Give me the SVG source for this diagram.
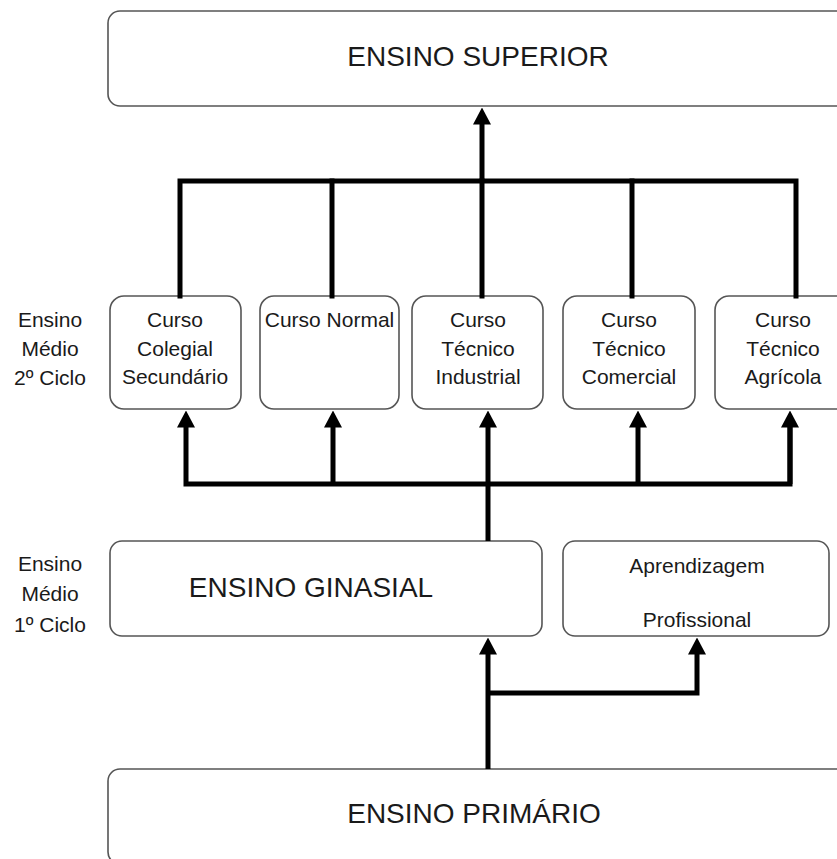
<svg xmlns="http://www.w3.org/2000/svg" width="837" height="859" viewBox="0 0 837 859">
<style>
.box{fill:#fff;stroke:#555;stroke-width:1.6}
.t{font-family:"Liberation Sans",Arial,sans-serif;fill:#1a1a1a;text-anchor:middle}
.big{font-size:28px}
.sm{font-size:21px}
.con{fill:none;stroke:#000;stroke-width:5;stroke-linejoin:miter;stroke-linecap:square}
.arr{stroke-linecap:butt}
</style>
<defs>
<marker id="ah" viewBox="0 0 17 18" markerWidth="17" markerHeight="18" refX="0.5" refY="9" orient="auto" markerUnits="userSpaceOnUse">
<path d="M0,0 L17,9 L0,18 z" fill="#000"/>
</marker>
</defs>
<rect width="837" height="859" fill="#fff"/>
<g id="superior"><rect class="box" x="108" y="11" width="745" height="95" rx="12"/><text class="t big" x="478" y="66">ENSINO SUPERIOR</text></g>
<g id="colegial"><rect class="box" x="110" y="296" width="131" height="113" rx="14"/><text class="t sm" x="175" y="327">Curso</text><text class="t sm" x="175" y="356">Colegial</text><text class="t sm" x="175" y="384">Secundário</text></g>
<g id="normal"><rect class="box" x="260" y="296" width="139" height="113" rx="14"/><text class="t sm" x="329.5" y="327">Curso Normal</text></g>
<g id="industrial"><rect class="box" x="412" y="296" width="131" height="113" rx="14"/><text class="t sm" x="478" y="327">Curso</text><text class="t sm" x="478" y="356">Técnico</text><text class="t sm" x="478" y="384">Industrial</text></g>
<g id="comercial"><rect class="box" x="563" y="296" width="132" height="113" rx="14"/><text class="t sm" x="629" y="327">Curso</text><text class="t sm" x="629" y="356">Técnico</text><text class="t sm" x="629" y="384">Comercial</text></g>
<g id="agricola"><rect class="box" x="715" y="296" width="136" height="113" rx="14"/><text class="t sm" x="783" y="327">Curso</text><text class="t sm" x="783" y="356">Técnico</text><text class="t sm" x="783" y="384">Agrícola</text></g>
<g id="label2"><text class="t sm" x="50" y="327">Ensino</text><text class="t sm" x="50" y="356">Médio</text><text class="t sm" x="50" y="385">2º Ciclo</text></g>
<g id="ginasial"><rect class="box" x="110" y="541" width="432" height="95" rx="12"/><text class="t big" x="311" y="597">ENSINO GINASIAL</text></g>
<g id="aprendizagem"><rect class="box" x="563" y="541" width="266" height="95" rx="12"/><text class="t sm" x="697" y="573">Aprendizagem</text><text class="t sm" x="697" y="627">Profissional</text></g>
<g id="label1"><text class="t sm" x="50" y="571">Ensino</text><text class="t sm" x="50" y="601">Médio</text><text class="t sm" x="50" y="632">1º Ciclo</text></g>
<g id="primario"><rect class="box" x="108" y="769" width="745" height="95" rx="12"/><text class="t big" x="474" y="823">ENSINO PRIMÁRIO</text></g>
<g id="connectors">
<path class="con" d="M180,296 V181 H796 V296"/>
<path class="con" d="M332,181 V296"/>
<path class="con" d="M632,181 V296"/>
<path class="con" d="M482,296 V181"/>
<path class="con arr" d="M482,181 V124" marker-end="url(#ah)"/>
<path class="con arr" d="M790,427 V484 H186 V427" marker-end="url(#ah)"/>
<path class="con arr" d="M790,484 V427" marker-end="url(#ah)"/>
<path class="con arr" d="M333,484 V427" marker-end="url(#ah)"/>
<path class="con arr" d="M638,484 V427" marker-end="url(#ah)"/>
<path class="con arr" d="M488,541 V427" marker-end="url(#ah)"/>
<path class="con arr" d="M488,769 V654" marker-end="url(#ah)"/>
<path class="con arr" d="M488,693 H697 V654" marker-end="url(#ah)"/>
</g>
</svg>
